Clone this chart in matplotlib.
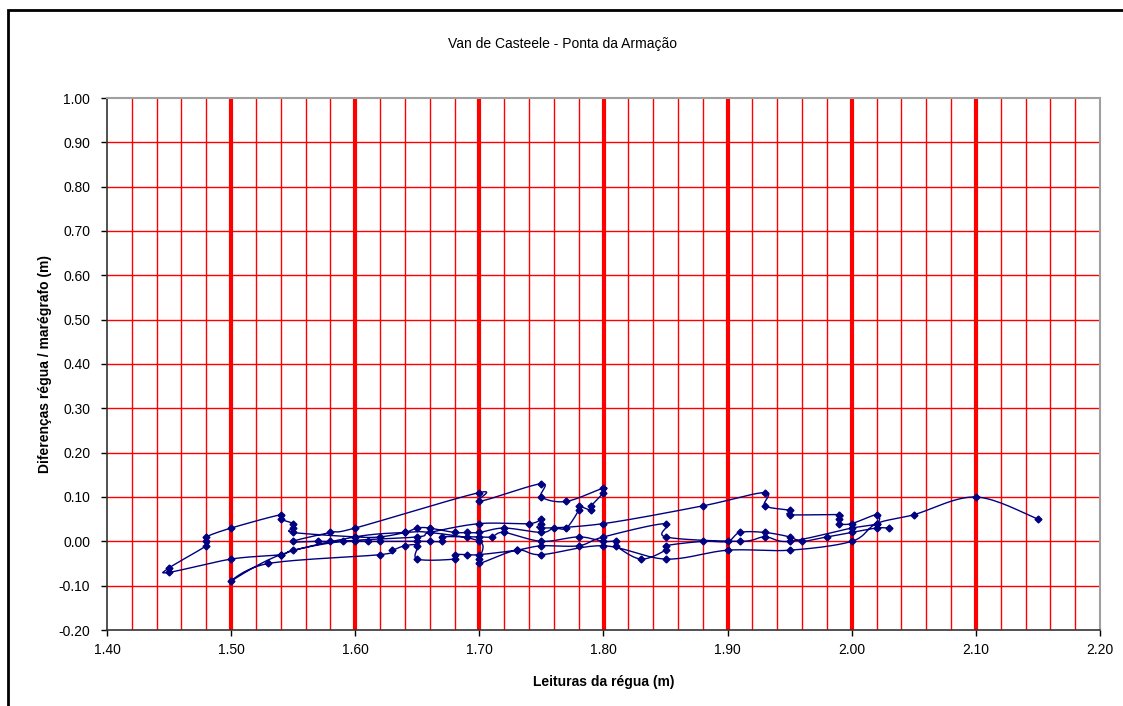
import numpy as np
import matplotlib
matplotlib.use("Agg")
import matplotlib.pyplot as plt
from matplotlib.patches import Rectangle
from matplotlib.ticker import MultipleLocator

plt.rcParams['font.family'] = ['Liberation Sans', 'DejaVu Sans']

# Readings in time order (leitura da régua, diferença régua - marégrafo)
leituras = [
    2.03, 2.02, 2.00, 1.98, 1.96, 1.95, 1.93, 1.91, 1.90, 1.88, 1.85, 1.85, 1.83, 1.81, 1.81, 1.80, 1.78, 1.75, 1.72,
    1.71, 1.70, 1.69, 1.67, 1.67, 1.66, 1.65, 1.62, 1.61, 1.60, 1.58, 1.57, 1.55,
    1.58, 1.60, 1.70, 1.70, 1.75, 1.75, 1.77, 1.80, 1.80, 1.79, 1.79, 1.78, 1.78,
    1.77, 1.76, 1.75, 1.72, 1.70, 1.69, 1.68, 1.66, 1.65, 1.64, 1.62, 1.60, 1.55, 1.55, 1.55, 1.54, 1.54, 1.50,
    1.48, 1.48, 1.48, 1.45,
    1.45, 1.50, 1.54, 1.55, 1.59, 1.65, 1.66, 1.70, 1.74, 1.75, 1.75, 1.75, 1.80, 1.88, 1.93, 1.93, 1.95, 1.95,
    1.99, 1.99, 1.99, 2.00, 2.02, 2.02,
    2.00, 1.95, 1.93, 1.91, 1.85, 1.85, 1.80, 1.78, 1.75, 1.73, 1.70, 1.69, 1.68, 1.68, 1.65, 1.65, 1.64, 1.63,
    1.62, 1.53, 1.50,
    1.54, 1.60, 1.64, 1.66, 1.70, 1.70, 1.70, 1.73, 1.75, 1.80, 1.85, 1.90, 1.95, 2.00, 2.02, 2.05, 2.10, 2.15,
]
diferencas = [
    0.03, 0.03, 0.02, 0.01, 0.00, 0.01, 0.02, 0.02, 0.00, 0.00, -0.01, -0.02, -0.04, -0.01, 0.00, 0.00, 0.01, 0.00, 0.02,
    0.01, 0.01, 0.01, 0.01, 0.00, 0.00, 0.00, 0.00, 0.00, 0.00, 0.00, 0.00, 0.00,
    0.02, 0.03, 0.11, 0.09, 0.13, 0.10, 0.09, 0.12, 0.11, 0.08, 0.07, 0.08, 0.07,
    0.03, 0.03, 0.02, 0.03, 0.02, 0.02, 0.02, 0.03, 0.03, 0.02, 0.01, 0.01, 0.02, 0.03, 0.04, 0.05, 0.06, 0.03,
    0.01, 0.00, -0.01, -0.06,
    -0.07, -0.04, -0.03, -0.02, 0.00, 0.01, 0.02, 0.04, 0.04, 0.05, 0.04, 0.03, 0.04, 0.08, 0.11, 0.08, 0.07, 0.06,
    0.06, 0.05, 0.04, 0.04, 0.06, 0.04,
    0.03, 0.00, 0.01, 0.00, 0.01, 0.04, 0.01, -0.01, -0.01, -0.02, -0.03, -0.03, -0.03, -0.04, -0.04, -0.01, -0.01, -0.02,
    -0.03, -0.05, -0.09,
    -0.03, 0.01, 0.02, 0.02, 0.00, -0.04, -0.05, -0.02, -0.03, -0.01, -0.04, -0.02, -0.02, 0.00, 0.04, 0.06, 0.10, 0.05,
]

fig = plt.figure(figsize=(11.23, 7.06), dpi=100)
ax = fig.add_axes([107 / 1123, 1 - 630 / 706, (1100 - 107) / 1123, (630 - 98) / 706])

ax.set_xlim(1.40, 2.20)
ax.set_ylim(-0.20, 1.00)

# grid: thin red every 0.02 / 0.1, thick red every 0.1 on x
for xv in np.arange(1.42, 2.19, 0.02):
    thick = abs(round(xv * 10) - xv * 10) < 1e-6
    ax.axvline(xv, color='#ff0000', lw=3 if thick else 1, zorder=1)
for yv in np.arange(-0.1, 1.0, 0.1):
    ax.axhline(yv, color='#ff0000', lw=1, zorder=1)

# smoothed line like a spreadsheet "smoothed scatter" (Bezier in display space)
pts = ax.transData.transform(np.column_stack([leituras, diferencas]))
curve = []
n = len(pts)
for i in range(n - 1):
    p0 = pts[max(i - 1, 0)]
    p1 = pts[i]
    p2 = pts[i + 1]
    p3 = pts[min(i + 2, n - 1)]
    c1 = p1 + (p2 - p0) / 6
    c2 = p2 - (p3 - p1) / 6
    t = np.linspace(0, 1, 20)[:, None]
    seg = (1 - t) ** 3 * p1 + 3 * (1 - t) ** 2 * t * c1 + 3 * (1 - t) * t ** 2 * c2 + t ** 3 * p2
    curve.append(seg if i == 0 else seg[1:])
curve = ax.transData.inverted().transform(np.vstack(curve))
ax.plot(curve[:, 0], curve[:, 1], color='#000080', lw=1, zorder=3)
ax.plot(leituras, diferencas, linestyle='none', marker='D', ms=3.5, color='#000080', zorder=4)

ax.xaxis.set_major_locator(MultipleLocator(0.1))
ax.yaxis.set_major_locator(MultipleLocator(0.1))
ax.xaxis.set_major_formatter(plt.FormatStrFormatter('%.2f'))
ax.yaxis.set_major_formatter(plt.FormatStrFormatter('%.2f'))
ax.tick_params(direction='out', length=4, width=1, labelsize=10, colors='black')
ax.tick_params(axis='y', pad=8)
ax.tick_params(axis='x', pad=5)

for side in ['left', 'bottom']:
    ax.spines[side].set_color('#333333')
    ax.spines[side].set_linewidth(1.2)
for side in ['top', 'right']:
    ax.spines[side].set_color('#a0a0a0')
    ax.spines[side].set_linewidth(1.5)

ax.set_xlabel('Leituras da régua (m)', fontsize=10, fontweight='bold', labelpad=13)
ax.set_ylabel('Diferenças régua / marégrafo (m)', fontsize=10, fontweight='bold', labelpad=5)
fig.text(563 / 1123, 1 - 44 / 706, 'Van de Casteele - Ponta da Armação', ha='center', va='center', fontsize=10)

# outer chart border
fig.patches.append(Rectangle((8 / 1123, -0.05), 1.2, 1 - 10 / 706 + 0.05, transform=fig.transFigure,
                             fill=False, edgecolor='black', lw=2))

fig.savefig('out.png', dpi=100)
